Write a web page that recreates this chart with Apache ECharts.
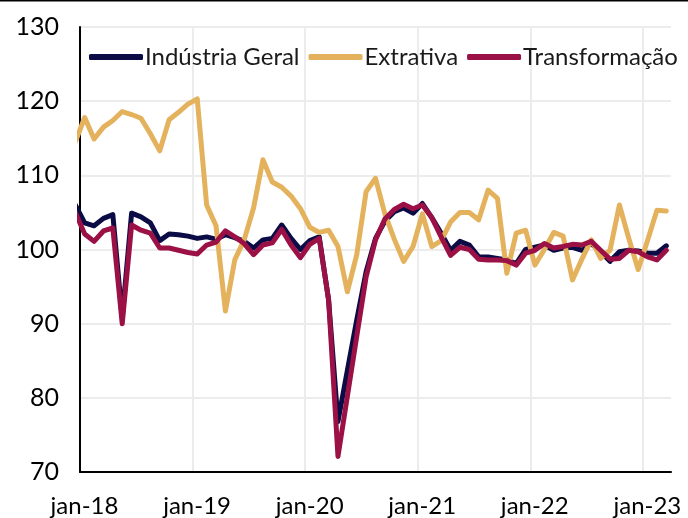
<!DOCTYPE html>
<html>
<head>
<meta charset="utf-8">
<script src="https://cdn.jsdelivr.net/npm/echarts@6/dist/echarts.min.js"></script>
<style>
html,body{margin:0;padding:0;background:#fff;}
#c{width:688px;height:518px;}
</style>
</head>
<body>
<div id="c"></div>
<script>
// Monthly index values, dez-17 (partly clipped at left edge) through mar-23
const months = ['dez-17',
 'jan-18','fev-18','mar-18','abr-18','mai-18','jun-18','jul-18','ago-18','set-18','out-18','nov-18','dez-18',
 'jan-19','fev-19','mar-19','abr-19','mai-19','jun-19','jul-19','ago-19','set-19','out-19','nov-19','dez-19',
 'jan-20','fev-20','mar-20','abr-20','mai-20','jun-20','jul-20','ago-20','set-20','out-20','nov-20','dez-20',
 'jan-21','fev-21','mar-21','abr-21','mai-21','jun-21','jul-21','ago-21','set-21','out-21','nov-21','dez-21',
 'jan-22','fev-22','mar-22','abr-22','mai-22','jun-22','jul-22','ago-22','set-22','out-22','nov-22','dez-22',
 'jan-23','fev-23','mar-23'];
const tickLabels = ['jan-18','jan-19','jan-20','jan-21','jan-22','jan-23'];

const industriaGeral = [106.0,
 103.6,103.2,104.2,104.7,90.8,104.9,104.4,103.6,101.2,102.1,102.0,101.8,
 101.5,101.7,101.4,102.0,101.6,101.1,100.2,101.3,101.5,103.3,101.5,100.0,
 101.2,101.7,93.2,76.8,83.7,90.5,97.0,101.5,103.8,105.1,105.6,104.9,
 106.2,104.3,102.2,99.9,101.1,100.6,99.0,99.0,98.8,98.6,98.1,100.0,
 100.3,100.6,99.9,100.2,100.3,99.9,100.8,99.7,98.4,99.7,99.9,99.8,
 99.5,99.5,100.5];
const extrativa = [114.5,
 117.8,114.9,116.5,117.4,118.6,118.2,117.7,115.6,113.3,117.5,118.5,119.6,
 120.3,106.0,103.2,91.7,98.6,101.3,105.6,112.1,109.1,108.4,107.2,105.5,
 103.0,102.3,102.6,100.4,94.3,99.3,107.8,109.6,104.8,101.4,98.4,100.4,
 104.8,100.4,101.2,103.7,105.0,105.0,104.0,108.0,106.9,96.8,102.2,102.6,
 97.9,100.0,102.3,101.8,95.9,98.7,101.3,98.8,99.9,106.0,101.5,97.3,
 101.2,105.3,105.2];
const transformacao = [105.0,
 102.1,101.1,102.5,102.9,90.0,103.3,102.6,102.2,100.2,100.2,99.9,99.6,
 99.4,100.6,101.0,102.5,101.7,100.8,99.3,100.6,100.9,102.7,100.6,98.9,
 100.7,101.5,93.2,72.1,80.2,88.3,96.3,101.3,104.1,105.4,106.1,105.5,
 106.0,104.3,101.7,99.2,100.3,100.0,98.7,98.6,98.6,98.5,97.9,99.5,
 99.9,100.8,100.2,100.4,100.7,100.6,101.1,99.9,98.7,98.8,99.9,99.7,
 99.0,98.6,99.9];

const seriesNames = ['Indústria Geral','Extrativa','Transformação'];
const colors = ['#0B0B45','#E4B25C','#9B1045'];

// each month occupies one band; point sits at the band centre
const toPoints = arr => arr.map((v, i) => [i - 0.5, v]);

const FONT = 'Lato';
const chart = echarts.init(document.getElementById('c'), null, {renderer: 'canvas'});
chart.setOption({
  animation: false,
  backgroundColor: '#fff',
  textStyle: {fontFamily: FONT},
  graphic: [{
    type: 'rect', left: 0, top: 0, shape: {width: 688, height: 1.5},
    style: {fill: '#000'}, silent: true
  }],
  legend: {
    left: 84, top: 40,
    itemWidth: 54, itemHeight: 6, itemGap: 9,
    icon: 'roundRect',
    textStyle: {fontFamily: FONT, fontSize: 24, color: '#1a1a1a', padding: [0, 0, 0, -3]},
    data: seriesNames
  },
  grid: {left: 80, right: 17, top: 27, bottom: 46, containLabel: false},
  xAxis: {
    type: 'value', min: 0, max: 63, interval: 12,
    axisLine: {show: true, lineStyle: {color: '#000', width: 2}},
    axisTick: {show: false},
    splitLine: {show: true, lineStyle: {color: ['#ececec','#ececec','#ececec','#ececec','#ececec','#ececec','rgba(0,0,0,0)'], width: 2}},
    axisLabel: {
      fontFamily: FONT, fontSize: 24, color: '#000', margin: 22,
      padding: [0, 0, 0, 9], showMaxLabel: false,
      formatter: v => (v % 12 === 0 && tickLabels[v / 12]) ? tickLabels[v / 12] : ''
    }
  },
  yAxis: {
    type: 'value', min: 70, max: 130, interval: 10,
    axisLine: {show: true, lineStyle: {color: '#000', width: 2}},
    axisTick: {show: false},
    splitLine: {show: true, lineStyle: {color: '#ececec', width: 2}},
    axisLabel: {fontFamily: FONT, fontSize: 25, color: '#000', margin: 21}
  },
  series: [industriaGeral, extrativa, transformacao].map((arr, k) => ({
    name: seriesNames[k],
    type: 'line',
    data: toPoints(arr),
    symbol: 'none',
    clip: true,
    color: colors[k],
    lineStyle: {color: colors[k], width: 5, cap: 'round', join: 'round'},
    itemStyle: {color: colors[k]},
    z: 2 + k
  }))
});
</script>
</body>
</html>
